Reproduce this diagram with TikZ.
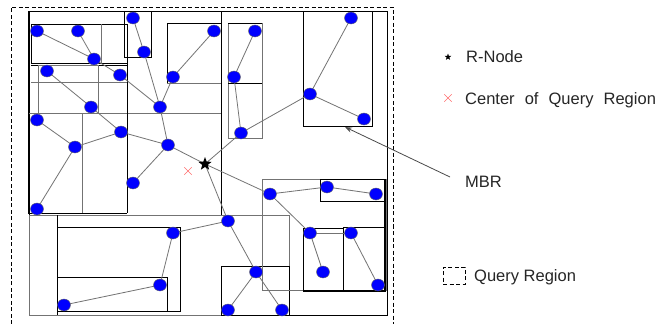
\documentclass[tikz,border=0pt]{standalone}
\usepackage{fontspec}
\setmainfont{Liberation Sans}
\usetikzlibrary{shapes.geometric,arrows.meta}
\definecolor{ptblue}{RGB}{0,0,255}
\definecolor{xred}{RGB}{255,110,110}
\definecolor{edgegray}{RGB}{115,115,115}
\pgfdeclarelayer{bglayer}
\pgfdeclarelayer{edgelayer}
\pgfsetlayers{bglayer,edgelayer,main}
\begin{document}
\begin{tikzpicture}[x=1pt,y=-1pt,
  pt/.style={ellipse,draw=black!60,line width=0.4pt,fill=ptblue,minimum width=13pt,minimum height=12pt,inner sep=0pt},
  rnode/.style={star,star points=5,star point ratio=2.4,fill=black,draw=none,minimum size=14pt,inner sep=0pt},
  lstar/.style={star,star points=5,star point ratio=2.4,fill=black,draw=none,minimum size=7pt,inner sep=0pt},
  edge/.style={draw=edgegray,line width=0.8pt},
  box/.style={draw=black,line width=0.8pt},
  gbox/.style={draw=black!55,line width=0.8pt},
  qbox/.style={draw=black,line width=0.7pt,dash pattern=on 4pt off 2.5pt},
  xmark/.style={draw=xred,line width=0.6pt},
  lbl/.style={font=\fontsize{16.5}{19}\selectfont,anchor=base west,inner sep=0pt,text=black!85}
]
\useasboundingbox (0,0) rectangle (657,324);
\begin{pgfonlayer}{bglayer}
\fill[white] (0,0) rectangle (657,324);

% query region (dashed)
\draw[qbox] (11,324) -- (11,7) -- (393,7) -- (393,324);

% outer MBR
\draw[box] (29,11) rectangle (387,315);
\draw[black,line width=2pt] (29,11) -- (29,214);

% top-left group
\draw[box] (29,11) rectangle (221,215);
\draw[gbox] (29,113) -- (221,113);
\draw[box] (124,11) rectangle (151,57);
\draw[box] (167,23) rectangle (221,83);
\draw[gbox] (167,83) -- (221,83);
\draw[box] (31,24) rectangle (127,63);
\draw[gbox] (101,24) -- (101,63);
\draw[box] (31,65) -- (127,65);
\draw[gbox] (31,82) -- (127,82);
\draw[gbox] (38,65) rectangle (98,113);
\draw[box] (127,24) -- (127,213);
\draw[box] (29,213) -- (127,213);
\draw[gbox] (82,113) -- (82,213);

% middle column
\draw[gbox] (228,23) rectangle (262,138);
\draw[box] (228,23) -- (262,23);
\draw[box] (228,83) -- (262,83);
\draw[box] (303,11) rectangle (372,126);

% lower-left group
\draw[gbox] (29,215) rectangle (289,315);
\draw[box] (57,215) -- (57,315);
\draw[box] (57,227) rectangle (180,311);
\draw[box] (57,277) rectangle (167,311);
\draw[box] (221,266) rectangle (289,315);

% lower-right group
\draw[gbox] (262,179) rectangle (386,290);
\draw[box] (320,179) rectangle (385,201);
\draw[box] (303,228) rectangle (343,291);
\draw[box] (343,227) rectangle (385,291);
\draw[black,line width=1.4pt] (385,179) -- (385,291) -- (303,291);
\end{pgfonlayer}

% points
\node[pt] (a1) at (37,31) {};
\node[pt] (a2) at (78,31) {};
\node[pt] (a3) at (94,59) {};
\node[pt] (a4) at (120,75) {};
\node[pt] (a5) at (133,18) {};
\node[pt] (a6) at (144,52) {};
\node[pt] (a7) at (160,107) {};
\node[pt] (a8) at (214,31) {};
\node[pt] (a9) at (173,77) {};
\node[pt] (a10) at (47,71) {};
\node[pt] (a11) at (91,107) {};
\node[pt] (a12) at (37,120) {};
\node[pt] (a13) at (75,147) {};
\node[pt] (a14) at (121,132) {};
\node[pt] (a15) at (168,145) {};
\node[pt] (a16) at (37,209) {};
\node[pt] (a17) at (133,183) {};
\node[pt] (b1) at (255,31) {};
\node[pt] (b2) at (234,77) {};
\node[pt] (b3) at (241,133) {};
\node[pt] (b4) at (351,18) {};
\node[pt] (b5) at (310,94) {};
\node[pt] (b6) at (364,119) {};
\node[pt] (c1) at (270,194) {};
\node[pt] (c2) at (327,187) {};
\node[pt] (c3) at (376,194) {};
\node[pt] (c4) at (310,233) {};
\node[pt] (c5) at (351,233) {};
\node[pt] (c6) at (323,272) {};
\node[pt] (c7) at (378,285) {};
\node[pt] (d1) at (228,221) {};
\node[pt] (d2) at (256,272) {};
\node[pt] (d3) at (228,310) {};
\node[pt] (d4) at (282,310) {};
\node[pt] (e1) at (173,233) {};
\node[pt] (e2) at (160,285) {};
\node[pt] (e3) at (64,305) {};
\node[rnode] (rn) at (205,164) {};

% edges (drawn beneath the points)
\begin{pgfonlayer}{edgelayer}
\foreach \u/\v in {a1/a3,a2/a3,a3/a4,a4/a7,a10/a11,a11/a14,a5/a6,a6/a7,a8/a9,a9/a7,a7/a15,
  a12/a13,a13/a14,a14/a15,a15/rn,a15/a17,a13/a16,
  b1/b2,b2/b3,b3/b5,b5/b4,b5/b6,b3/rn,
  rn/c1,c1/c2,c2/c3,c1/c4,c4/c5,c4/c6,c5/c7,
  rn/d1,d1/d2,d2/d3,d2/d4,d1/e1,e1/e2,e2/e3}
  \draw[edge] (\u.center) -- (\v.center);
\end{pgfonlayer}

% center of query region
\node[inner sep=0pt,minimum size=7pt] (qc) at (188,171) {};
\draw[xmark] (qc.north west) -- (qc.south east) (qc.north east) -- (qc.south west);

% MBR arrow
\coordinate (mbrtail) at (450,177);
\coordinate (mbrtip) at (345,127);
\draw[draw=black!70,line width=0.8pt,-{Stealth[length=7pt,width=5pt]}] (mbrtail) -- (mbrtip);

% legend
\node[lstar] (lg1) at (448,57) {};
\node[lbl] (t1) at (466,62) {R-Node};
\node[inner sep=0pt,minimum size=7pt] (lg2) at (448,98) {};
\draw[xmark] (lg2.north west) -- (lg2.south east) (lg2.north east) -- (lg2.south west);
\node[lbl] (t2) at (465,104) {Center\,\, of\,\, Query\,\, Region};
\node[lbl] (t3) at (465,187) {MBR};
\node[qbox,minimum width=22pt,minimum height=17pt,inner sep=0pt] (lg4) at (454,275.5) {};
\node[lbl] (t4) at (474,281) {Query Region};
\end{tikzpicture}
\end{document}
